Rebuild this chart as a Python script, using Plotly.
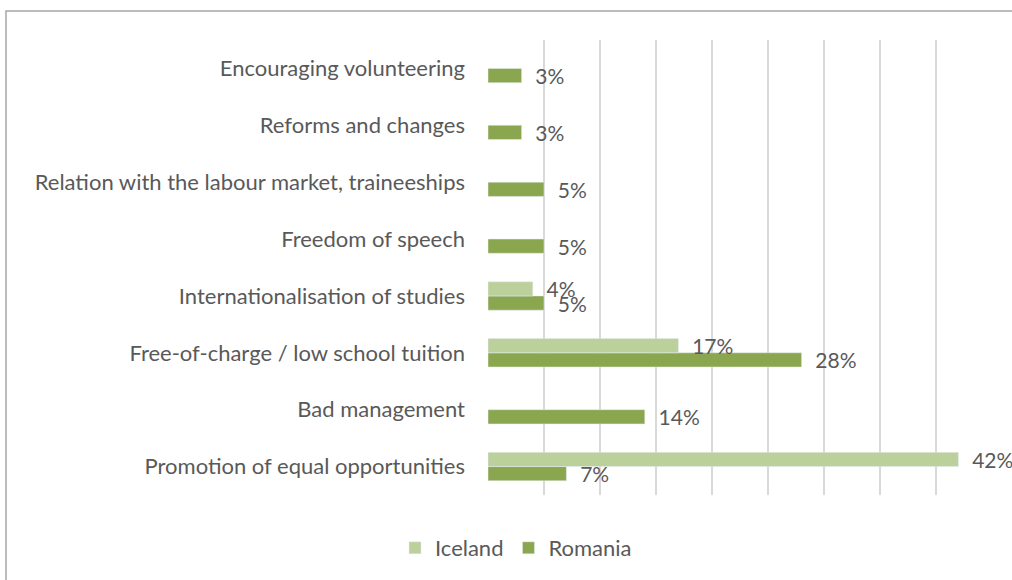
import plotly.graph_objects as go

categories = [
    "Promotion of equal opportunities",
    "Bad management",
    "Free-of-charge / low school tuition",
    "Internationalisation of studies",
    "Freedom of speech",
    "Relation with the labour market, traineeships",
    "Reforms and changes",
    "Encouraging volunteering",
]
iceland = [42, None, 17, 4, None, None, None, None]
romania = [7, 14, 28, 5, 5, 5, 3, 3]

FONT = "Lato"
TXT = "#595959"
FS = 22

def labels(vals):
    return ["  %d%%" % v if v is not None else "" for v in vals]

fig = go.Figure()
# Romania first so that Iceland sits above it within each group
fig.add_trace(go.Bar(
    y=categories, x=romania, name="Romania", orientation="h",
    marker=dict(color="#8AA64E"),
    text=labels(romania), textposition="outside", cliponaxis=False,
    constraintext="none",
    textfont=dict(family=FONT, size=21, color=TXT),
))
fig.add_trace(go.Bar(
    y=categories, x=iceland, name="Iceland", orientation="h",
    marker=dict(color="#BBD09A"),
    text=labels(iceland), textposition="outside", cliponaxis=False,
    constraintext="none",
    textfont=dict(family=FONT, size=21, color=TXT),
))

L, R, T, B = 488, 20, 40, 85
PW, PH = 1012 - L - R, 580 - T - B
fig.update_layout(
    width=1012, height=580,
    barmode="group", bargap=0.5, bargroupgap=0,
    paper_bgcolor="white", plot_bgcolor="white",
    margin=dict(l=L, r=R, t=T, b=B, autoexpand=False),
    font=dict(family=FONT, size=FS, color=TXT),
    xaxis=dict(range=[0, 45], dtick=5, showticklabels=False,
               showgrid=True, gridcolor="#D9D9D9", gridwidth=1.5,
               zeroline=False, showline=False, fixedrange=True),
    yaxis=dict(showgrid=False, zeroline=False, showline=False,
               ticks="", ticklabelstandoff=22,
               tickfont=dict(family=FONT, size=FS, color=TXT),
               categoryorder="array", categoryarray=categories),
    showlegend=True,
    legend=dict(orientation="h", xref="container", yref="container",
                x=516 / 1012, y=1 - 548 / 580,
                xanchor="center", yanchor="middle",
                traceorder="reversed",
                font=dict(family=FONT, size=FS, color=TXT),
                itemwidth=30),
    shapes=[dict(type="rect", xref="paper", yref="paper",
                 x0=-(L - 6) / PW, x1=(1012 - L + 20) / PW,
                 y0=-(B + 20) / PH, y1=1 + (T - 11) / PH,
                 line=dict(color="#A6A6A6", width=1.5), layer="below")],
)

fig.write_html("out.html", config={"displayModeBar": False},
               post_script="document.body.style.margin='0px';")
